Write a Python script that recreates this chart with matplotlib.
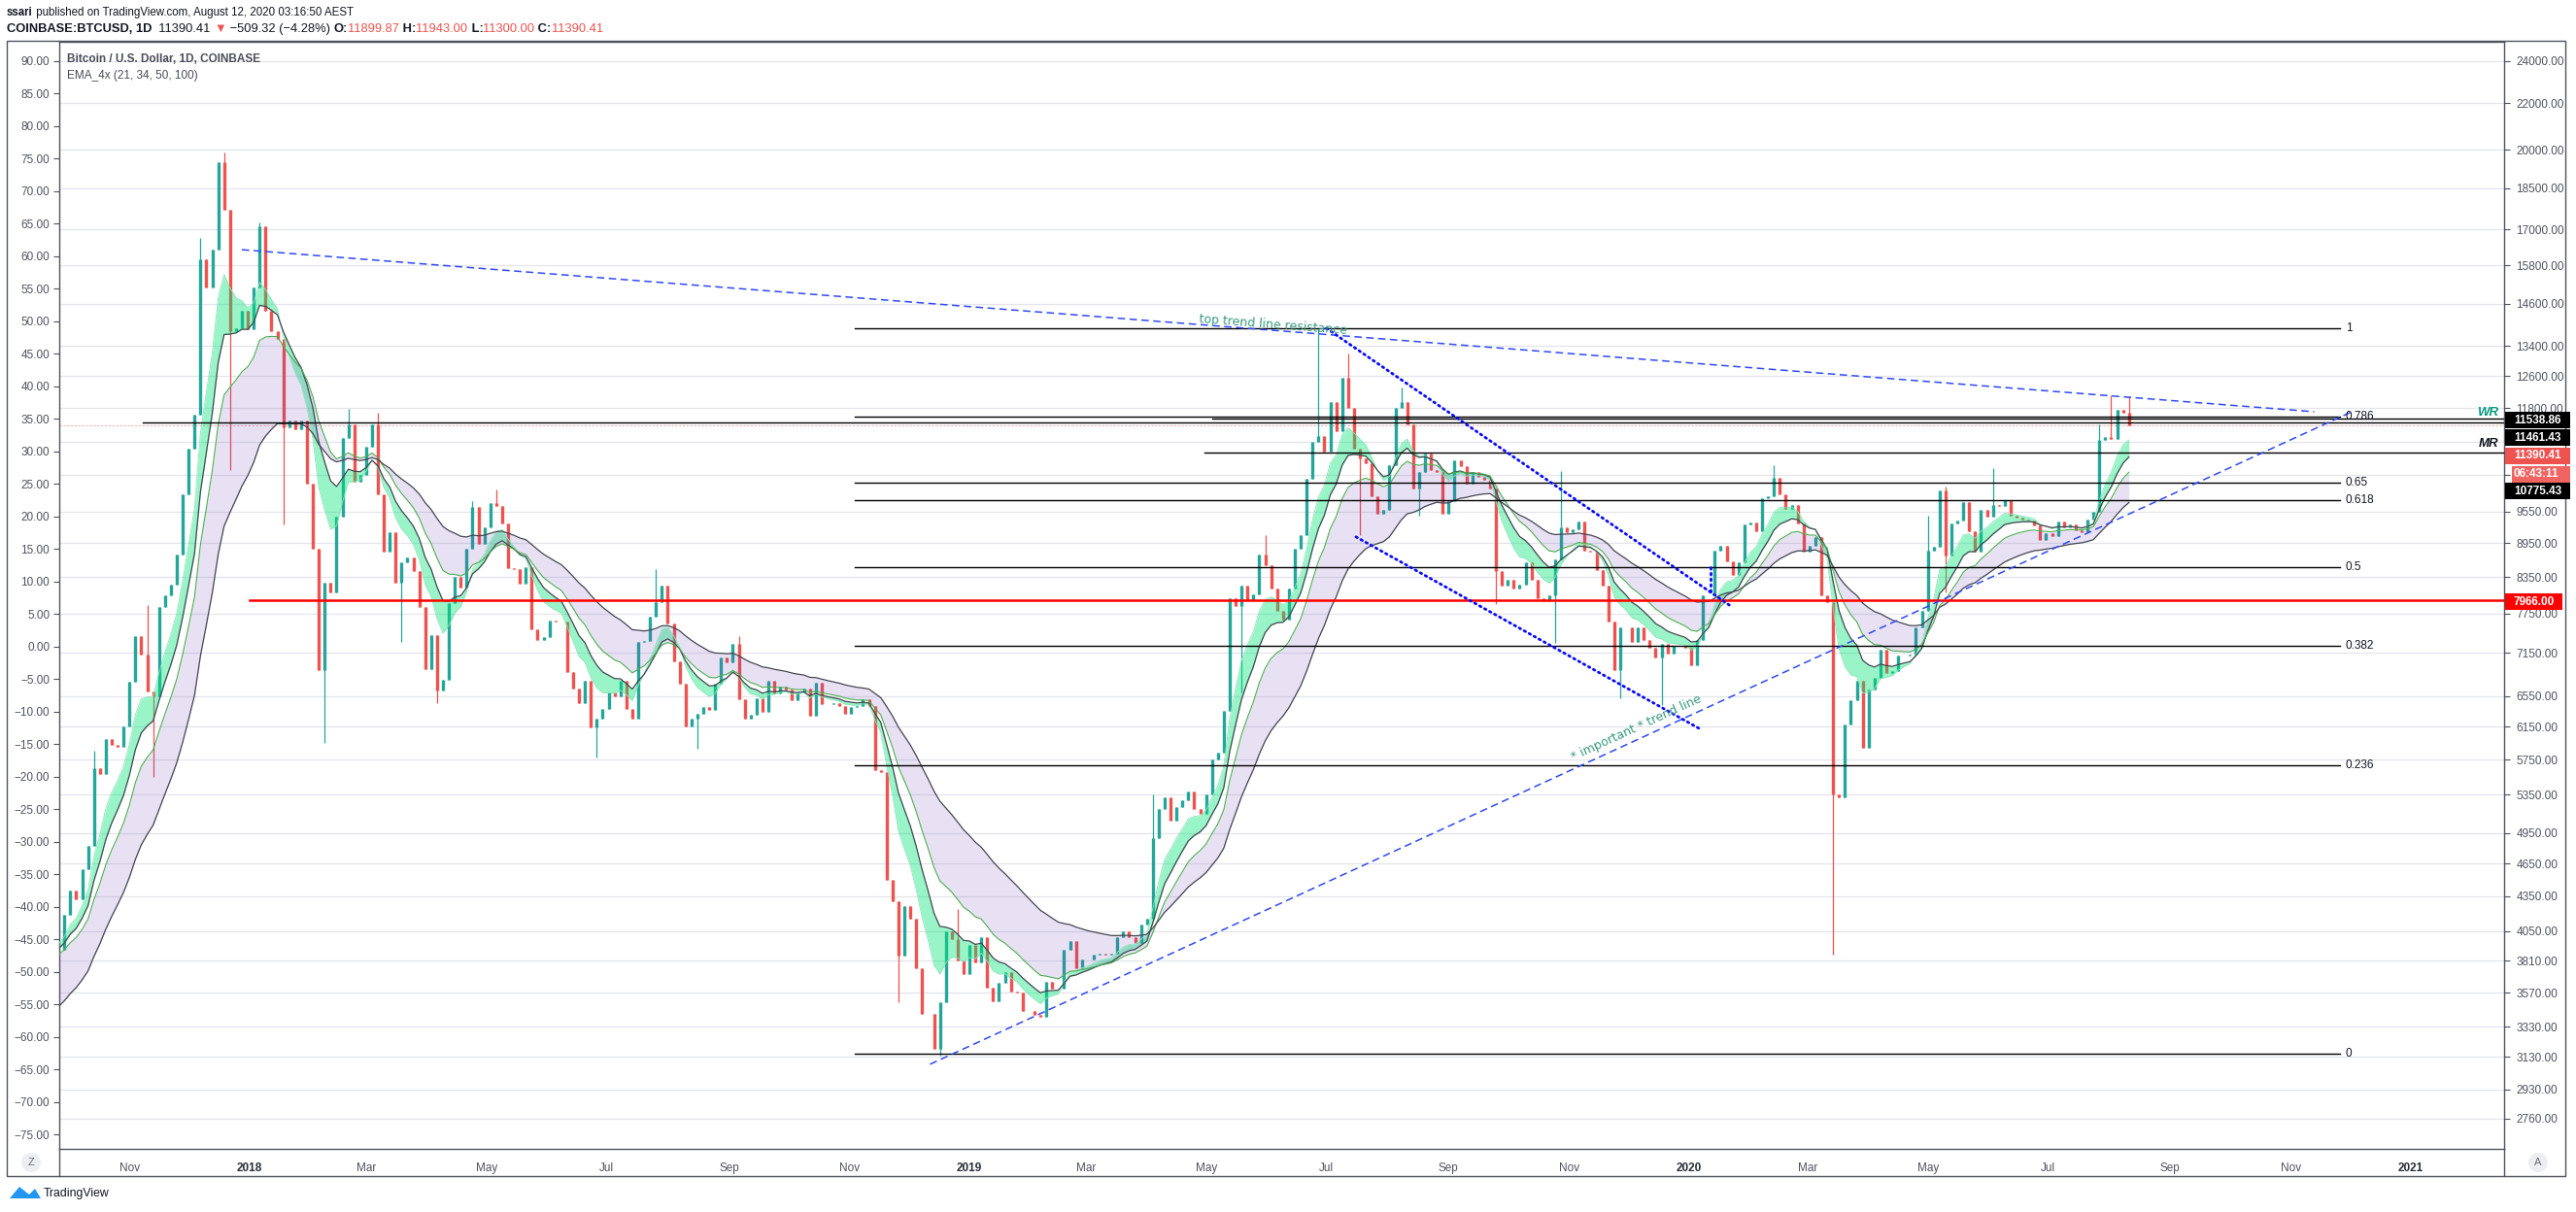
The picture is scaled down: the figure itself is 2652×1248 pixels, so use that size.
import numpy as np
import matplotlib
matplotlib.use('Agg')
import matplotlib.pyplot as plt
from matplotlib.patches import Rectangle, Polygon
from matplotlib.ticker import NullLocator, FixedLocator, FixedFormatter

# ---- data (COINBASE:BTCUSD, one close every 3 days, last one = 2020-08-11) ----
closes = [
    3900, 4190, 4400, 4320, 4600, 4820, 5650, 5580, 6000, 5920, 5900, 6150,          # Sep/Oct 17
    6740, 7400, 7130, 6610, 6550, 7850, 8050, 8230, 8750, 9900,                      # Nov 17
    10850, 11650, 16000, 15100, 16300, 19500, 17700, 13800, 13900, 14400, 13850,     # Dec 17
    15100, 17100, 14400, 13800, 13600, 11350, 11500, 11300, 11500, 10100,            # Jan 18
    8850, 6900, 8250, 8100, 9450, 11100, 11400, 10150, 10300,                        # Feb 18
    10900, 11400, 9900, 8800, 9150, 8250, 8600, 8700, 8450, 7850, 6920,              # Mar 18
    7420, 6620, 6770, 7920, 8350, 8170, 8850, 9630, 8930, 9240,                      # Apr 18
    9720, 9660, 9320, 8500, 8480, 8240, 8520, 7500, 7350, 7390,                      # May 18
    7640, 7620, 7630, 6880, 6650, 6450, 6760, 6140, 6250, 6380,                      # Jun 18
    6600, 6550, 6760, 6380, 6250, 7320, 7330, 7700, 7940, 8210,                      # Jul 18
    7600, 7030, 6720, 6150, 6250, 6310, 6400, 6370, 6710, 7080, 7020,                # Aug 18
    7280, 6500, 6250, 6300, 6520, 6340, 6750, 6580, 6670, 6630,                      # Sep 18
    6490, 6590, 6650, 6290, 6730, 6440, 6440, 6450, 6420, 6320,                      # Oct 18
    6400, 6410, 6500, 6420, 5630, 5610, 4500, 4300, 3850, 4260,                      # Nov 18
    4150, 3750, 3420, 3420, 3180, 3500, 4050, 3980, 3810, 3710,                      # Dec 18
    3940, 3800, 4000, 3610, 3510, 3640, 3720, 3580, 3570, 3440, 3440,                # Jan 19
    3410, 3400, 3650, 3600, 3600, 3900, 3970, 3750, 3820,                            # Feb 19
    3820, 3860, 3870, 3860, 3870, 4000, 4050, 4000, 3950, 4100,                      # Mar 19
    4150, 4900, 5200, 5320, 5080, 5220, 5290, 5390, 5200, 5150,                      # Apr 19
    5350, 5750, 5830, 6350, 8000, 7870, 8200, 7960, 8060, 8750, 8550,                # May 19
    8150, 7800, 7650, 8150, 8850, 9100, 10200, 11020, 11150, 10800,                  # Jun 19
    11950, 11250, 12550, 11800, 10850, 10650, 10550, 9850, 9500, 9580,               # Jul 19
    10500, 11800, 11950, 11400, 10000, 10350, 10750, 10400, 10350, 9500,             # Aug 19
    9750, 10600, 10480, 10100, 10350, 10250, 10180, 10000, 8450, 8200,               # Sep 19
    8300, 8150, 8220, 8600, 8300, 8000, 7950, 8050, 8650, 9250, 9150,                # Oct 19
    9200, 9350, 8810, 8800, 8470, 8200, 7620, 6900, 7530, 7540,                      # Nov 19
    7320, 7540, 7350, 7220, 7080, 7280, 7140, 7260, 7250, 7230,                      # Dec 19
    6970, 7350, 8050, 8050, 8820, 8900, 8630, 8380, 8600, 9300,                      # Jan 20
    9340, 9180, 9820, 9860, 10240, 9900, 9600, 9680, 9310, 8790,                     # Feb 20
    8910, 9070, 8040, 7930, 5360, 5320, 6180, 6490, 6760, 5890,                      # Mar 20
    6640, 6790, 7200, 6870, 6890, 7120, 7120, 7130, 7540, 7790,                      # Apr 20
    8820, 8890, 9960, 8730, 9310, 9380, 9730, 9180, 8790, 9580, 9450,                # May 20
    9670, 9660, 9780, 9460, 9430, 9390, 9380, 9290, 9010, 9140,                      # Jun 20
    9090, 9350, 9240, 9300, 9190, 9160, 9390, 9550, 11050, 11110,                    # Jul 20
    11070, 11750, 11690, 11390.41,                                                   # Aug 20
]
first_open = 3890
last_date = '2020-08-11'
step_days = 3

# notable wick extremes
wick_dates = ['2017-10-13', '2017-11-08', '2017-11-12', '2017-12-07', '2017-12-17', '2017-12-22',
              '2018-01-06', '2018-01-17', '2018-02-06', '2018-02-20', '2018-03-05', '2018-03-18',
              '2018-04-06', '2018-04-24', '2018-05-05', '2018-06-24', '2018-07-24', '2018-08-14',
              '2018-09-04', '2018-11-25', '2018-12-15', '2018-12-24', '2019-04-03', '2019-05-17',
              '2019-05-30', '2019-06-26', '2019-07-10', '2019-07-17', '2019-08-06', '2019-08-15',
              '2019-09-24', '2019-10-23', '2019-10-26', '2019-11-25', '2019-12-18', '2020-02-13',
              '2020-03-13', '2020-04-30', '2020-05-08', '2020-05-10', '2020-06-01', '2020-07-27',
              '2020-08-02', '2020-08-10']
wick_prices = [5850, 7880, 5550, 16700, 19890, 10400,
               17250, 9300, 5950, 11790, 11690, 7320,
               6450, 9760, 9990, 5780, 8490, 5880,
               7400, 3500, 3140, 4240, 5350, 6600,
               9100, 13880, 13200, 9100, 12300, 9470,
               7900, 7300, 10370, 6520, 6430, 10500,
               3860, 9470, 10050, 8100, 10430, 11400,
               12100, 12090]

ema_periods = [21, 34, 50, 100]
ema_start = [3958, 3906, 3855, 3443]

price_ticks = [24000, 22000, 20000, 18500, 17000, 15800, 14600, 13400, 12600, 11800, 11000,
               10300, 9550, 8950, 8350, 7750, 7150, 6550, 6150, 5750, 5350, 4950, 4650, 4350,
               4050, 3810, 3570, 3330, 3130, 2930, 2760]
hidden_ticks = [11000, 10300]   # covered by the price label boxes
pct_ticks = list(range(90, -80, -5))

date_ticks = ['2017-11-01', '2018-01-01', '2018-03-01', '2018-05-01', '2018-07-01', '2018-09-01',
              '2018-11-01', '2019-01-01', '2019-03-01', '2019-05-01', '2019-07-01', '2019-09-01',
              '2019-11-01', '2020-01-01', '2020-03-01', '2020-05-01', '2020-07-01', '2020-09-01',
              '2020-11-01', '2021-01-01']
date_labels = ['Nov', '2018', 'Mar', 'May', 'Jul', 'Sep', 'Nov', '2019', 'Mar', 'May', 'Jul',
               'Sep', 'Nov', '2020', 'Mar', 'May', 'Jul', 'Sep', 'Nov', '2021']

fib_low, fib_high = 3150, 13880
fib_levels = [0, 0.236, 0.382, 0.5, 0.618, 0.65, 0.786, 1]
fib_span = ['2018-11-04', '2020-11-26']

ray_prices = [11538.86, 11461.43, 10775.43]
ray_starts = ['2019-05-04', '2017-11-08', '2019-04-30']
support_price = 7966.00
support_start = '2018-01-01'
last_price = 11390.41

top_line_dates, top_line_prices = ['2017-12-28', '2020-11-13'], [16310, 11710]
rise_line_dates, rise_line_prices = ['2018-12-12', '2020-12-03'], [3084, 11730]
chan_hi_dates, chan_hi_prices = ['2019-07-01', '2020-01-22'], [13890, 7872]
chan_lo_dates, chan_lo_prices = ['2019-07-16', '2020-01-07'], [9067, 6115]
chan_tick_dates, chan_tick_prices = ['2020-01-12', '2020-01-12'], [8520, 8080]

# ---- helpers ----
W, H = 2652, 1248
BASE = np.datetime64('2018-01-01')


def day(s):
    return (np.datetime64(s) - BASE).astype(int)


def fx(x):
    return x / W


def fy(y):
    return 1 - y / H


GREEN, RED = '#26a69a', '#ef5350'
AXC = '#50535e'
TXT = '#131722'
plt.rcParams['font.family'] = ['Liberation Sans', 'DejaVu Sans']

fig = plt.figure(figsize=(W / 100, H / 100), dpi=100)
fig.patch.set_facecolor('white')
ax = fig.add_axes([fx(61), fy(1183), (2578 - 61) / W, (1183 - 43) / H])

# ---- candles ----
c = np.array(closes, dtype=float)
n = len(c)
bar_days = day(last_date) - step_days * np.arange(n)[::-1]
o = np.r_[first_open, c[:-1]]
hi = np.maximum(o, c)
lo = np.minimum(o, c)
wd = np.array([day(d) for d in wick_dates])
for i, p in zip(np.searchsorted(bar_days, wd), wick_prices):
    hi[i] = max(hi[i], p)
    lo[i] = min(lo[i], p)
up = c >= o
for m, col in ((up, GREEN), (~up, RED)):
    ax.vlines(bar_days[m], lo[m], hi[m], color=col, lw=0.9, zorder=2)
    ax.vlines(bar_days[m], o[m], c[m], color=col, lw=2.4, zorder=2)

# ---- EMA 4x ----
emas = []
for per, s in zip(ema_periods, ema_start):
    a = 2.0 / (per / step_days + 1)
    e, out = s, []
    for v in c:
        e = e + a * (v - e)
        out.append(e)
    emas.append(np.array(out))
ax.fill_between(bar_days, emas[0], emas[1], color='#00e676', alpha=0.4, lw=0, zorder=3)
ax.fill_between(bar_days, emas[2], emas[3], color='#673ab7', alpha=0.15, lw=0, zorder=3)
ax.plot(bar_days, emas[0], color='#8fe3bb', lw=0.6, zorder=3.5)
ax.plot(bar_days, emas[1], color='#434651', lw=0.9, zorder=3.5)
ax.plot(bar_days, emas[2], color='#4caf50', lw=0.8, zorder=3.5)
ax.plot(bar_days, emas[3], color='#434651', lw=0.9, zorder=3.5)

# ---- drawings ----
f0, f1 = day(fib_span[0]), day(fib_span[1])
for lv in fib_levels:
    p = fib_low + lv * (fib_high - fib_low)
    ax.plot([f0, f1], [p, p], color='black', lw=1.0, zorder=4)
    ax.text(f1 + 3, p, f'{lv:g}', fontsize=8.5, color=TXT, va='center', ha='left', zorder=6)

xr = 1200
for p, s in zip(ray_prices, ray_starts):
    ax.plot([day(s), xr], [p, p], color='black', lw=1.0, zorder=4)
ax.plot([day(support_start), xr], [support_price] * 2, color='#ff0000', lw=1.8, zorder=4)
ax.axhline(last_price, color='#f4a3a1', lw=0.7, ls=(0, (2, 2)), zorder=1.5)

for ds, ps in ((top_line_dates, top_line_prices), (rise_line_dates, rise_line_prices)):
    ax.plot([day(d) for d in ds], ps, color='#3049f5', lw=1.1, ls=(0, (5, 3)), zorder=5)
for ds, ps in ((chan_hi_dates, chan_hi_prices), (chan_lo_dates, chan_lo_prices),
               (chan_tick_dates, chan_tick_prices)):
    ax.plot([day(d) for d in ds], ps, color='#0a0aff', lw=2.0, ls=(0, (0.6, 1.5)),
            dash_capstyle='round', zorder=5)

ax.text(day('2019-06-04'), 14000, 'top trend line resistance', fontsize=9, color='#3a9a80',
        rotation=-4.5, rotation_mode='anchor', ha='center', va='center', zorder=6,
        family='DejaVu Sans')
ax.text(day('2019-12-05'), 6137, '* important * trend line', fontsize=9, color='#3a9a80',
        rotation=24.7, rotation_mode='anchor', ha='center', va='center', zorder=6,
        family='DejaVu Sans')

# ---- axes ----
ax.set_yscale('log')
ax.set_ylim(2594, 24952)
ax.set_xlim(-96.6, 1143.3)
ax.grid(True, axis='y', color='#e3e5eb', lw=0.9)
ax.set_axisbelow(True)
ax.set_xticks([day(d) for d in date_ticks])
ax.set_xticklabels(date_labels)
ax.tick_params(axis='x', length=0, labelsize=8.5, labelcolor=AXC, pad=10)
for t in ax.get_xticklabels():
    if t.get_text().isdigit():
        t.set_fontweight('bold')
        t.set_color('#2a2e39')
for sp in ax.spines.values():
    sp.set_color(AXC)
    sp.set_linewidth(1.0)

ax2 = ax.twinx()
ax2.set_ylim(-77.2, 92.93)
ax2.yaxis.tick_left()
ax2.set_yticks(pct_ticks)
ax2.set_yticklabels([f'{v:.2f}'.replace('-', '\u2212') for v in pct_ticks])
ax2.tick_params(axis='y', direction='out', length=4, width=0.8, color=AXC, labelsize=8.5,
                labelcolor=AXC, pad=3)
for sp in ax2.spines.values():
    sp.set_visible(False)

# twinx moved the price ticks to the left, put them back on the right
ax.yaxis.tick_right()
ax.yaxis.set_major_locator(FixedLocator(price_ticks))
ax.yaxis.set_major_formatter(FixedFormatter(
    ['' if v in hidden_ticks else f'{v:.2f}' for v in price_ticks]))
ax.yaxis.set_minor_locator(NullLocator())
ax.tick_params(axis='y', which='both', left=False, labelleft=False, right=True,
               labelright=True, direction='out', length=4, width=0.8, color=AXC,
               labelsize=8.5, labelcolor=AXC, pad=5)

# ---- outer frame ----
fig.add_artist(Rectangle((fx(7), fy(1211)), (2641 - 7) / W, (1211 - 42) / H, fill=False,
                         ec=AXC, lw=1.0, transform=fig.transFigure))
for xx in (61, 2578):
    fig.add_artist(plt.Line2D([fx(xx), fx(xx)], [fy(1183), fy(1211)], color=AXC, lw=1.0))
for xx, ch in ((32, 'Z'), (2613, 'A')):
    fig.text(fx(xx), fy(1197), ch, fontsize=8, color='#6a6d78', ha='center', va='center',
             bbox=dict(boxstyle='circle,pad=0.45', fc='#eceef2', ec='none'))


# ---- price label boxes on the right axis ----
def price_box(y, text, fc, x0=2579, x1=2646, h=17):
    fig.add_artist(Rectangle((fx(x0), fy(y + h / 2)), (x1 - x0) / W, h / H, fc=fc, ec='none',
                             transform=fig.transFigure, zorder=10))
    fig.text(fx(2588), fy(y), text, fontsize=8.5, color='white', weight='bold',
             ha='left', va='center', zorder=11)


price_box(432.5, f'{ray_prices[0]:.2f}', '#000000')
price_box(450.7, f'{ray_prices[1]:.2f}', '#000000')
price_box(469.2, f'{last_price:.2f}', '#ef5350')
price_box(488.3, '06:43:11', '#f06462', x0=2586)
price_box(505.8, f'{ray_prices[2]:.2f}', '#000000')
price_box(619.5, f'{support_price:.2f}', '#ff0000', x1=2638)
fig.text(fx(2572), fy(425), 'WR', fontsize=9.5, color='#089981', weight='bold', style='italic',
         ha='right', va='center')
fig.text(fx(2572), fy(457), 'MR', fontsize=9.5, color='#131722', weight='bold', style='italic',
         ha='right', va='center')

# ---- header / legend ----
renderer = fig.canvas.get_renderer()


def runs(x, y, parts, size):
    for s, col, wt in parts:
        t = fig.text(fx(x), fy(y), s, color=col, weight=wt, fontsize=size, ha='left',
                     va='center')
        x += t.get_window_extent(renderer=renderer).width


runs(7, 13, [('ssari', TXT, 'bold'),
             (' published on TradingView.com, August 12, 2020 03:16:50 AEST', TXT, 'normal')], 8.3)
runs(7, 30, [('COINBASE:BTCUSD, 1D', TXT, 'bold'), ('  11390.41 ', TXT, 'normal'),
             ('\u25bc', RED, 'normal'), (' \u2212509.32 (\u22124.28%) ', TXT, 'normal'),
             ('O:', TXT, 'bold'), ('11899.87', RED, 'normal'), (' H:', TXT, 'bold'),
             ('11943.00', RED, 'normal'), (' L:', TXT, 'bold'), ('11300.00', RED, 'normal'),
             (' C:', TXT, 'bold'), ('11390.41', RED, 'normal')], 9.3)
fig.text(fx(69), fy(61), 'Bitcoin / U.S. Dollar, 1D, COINBASE', fontsize=8.5, color='#4a4d57',
         weight='bold', ha='left', va='center')
fig.text(fx(69), fy(78), 'EMA_4x (21, 34, 50, 100)', fontsize=8.5, color='#4a4d57',
         ha='left', va='center')

# TradingView mark
fig.add_artist(Polygon([(fx(10), fy(1234)), (fx(20), fy(1222)), (fx(30), fy(1230)),
                        (fx(36), fy(1224)), (fx(42), fy(1234))], closed=True, fc='#2196f3',
                       ec='none', transform=fig.transFigure))
fig.text(fx(45), fy(1229), 'TradingView', fontsize=8.8, color=TXT, ha='left', va='center')

fig.savefig('out.png', dpi=100, facecolor='white')
